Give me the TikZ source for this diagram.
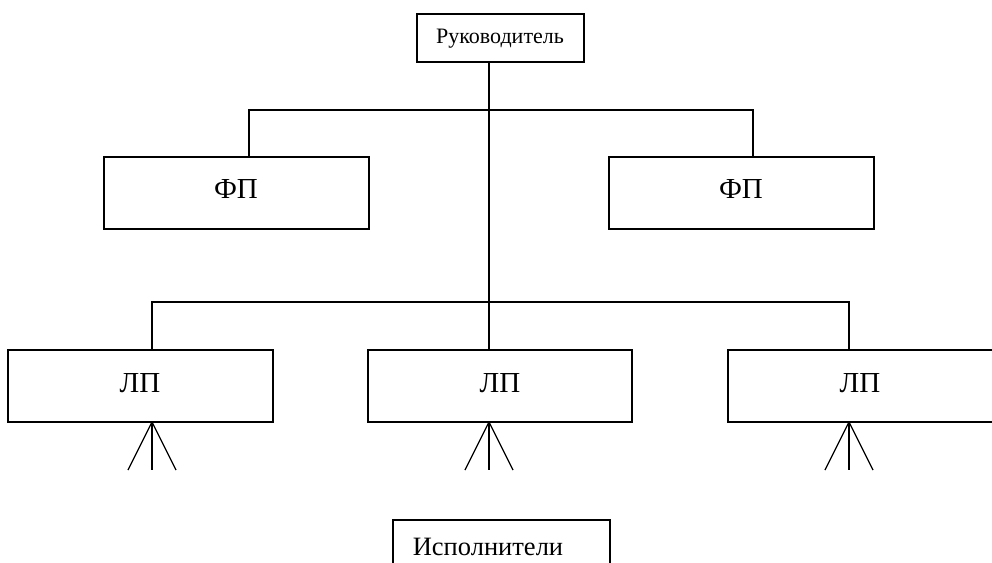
\documentclass[tikz,border=0pt]{standalone}
\usepackage{fontspec}
\setmainfont{Liberation Serif}
\begin{document}
\begin{tikzpicture}[x=1pt,y=-1pt,line width=1.6pt,
  box/.style={draw,line width=1.6pt,inner sep=0pt,outer sep=0pt,minimum width=#1,minimum height=72pt},
  lbl/.style={font=\fontsize{29}{33}\selectfont},
  small/.style={font=\fontsize{22}{26}\selectfont},
  mid/.style={font=\fontsize{26.5}{30}\selectfont},
  fan/.style={line width=1.3pt}]
\useasboundingbox (0,0) rectangle (992,562);
\clip (0,0) rectangle (992,562);
% nodes
\node[box=167pt,minimum height=48pt] (ruk) at (500.5,38) {};
\node[small] (rukt) at (500,39) {Руководитель};
\node[box=265pt] (fp1) at (236.5,193) {};
\node[lbl] (fp1t) at (236,189) {ФП};
\node[box=265pt] (fp2) at (741.5,193) {};
\node[lbl] (fp2t) at (741,189) {ФП};
\node[box=265pt] (lp1) at (140.5,386) {};
\node[lbl] (lp1t) at (140,383) {ЛП};
\node[box=264pt] (lp2) at (500,386) {};
\node[lbl] (lp2t) at (500,383) {ЛП};
\node[box=265pt] (lp3) at (860.5,386) {};
\node[lbl] (lp3t) at (860,383) {ЛП};
\node[box=217pt,minimum height=70pt,anchor=north west] (isp) at (393,520) {};
\node[mid] (ispt) at (488,547) {Исполнители};
% junctions
\coordinate (j1) at (489,110);
\coordinate (j2) at (489,302);
\coordinate (a1) at (249,110);
\coordinate (a2) at (753,110);
\coordinate (b1) at (152,302);
\coordinate (b3) at (849,302);
% connectors
\draw (ruk.south -| j1) -- (j2);
\draw (a1 |- fp1.north) -- (a1) -- (a2) -- (a2 |- fp2.north);
\draw (b1 |- lp1.north) -- (b1) -- (b3) -- (b3 |- lp3.north);
\draw (j2) -- (j2 |- lp2.north);
% fans
\foreach \n/\c in {lp1/b1,lp2/j2,lp3/b3}{
  \coordinate (f) at (\c |- \n.south);
  \draw[fan] (f) -- ++(-24,48);
  \draw[fan] (f) -- ++(0,48);
  \draw[fan] (f) -- ++(24,48);
}
\end{tikzpicture}
\end{document}
